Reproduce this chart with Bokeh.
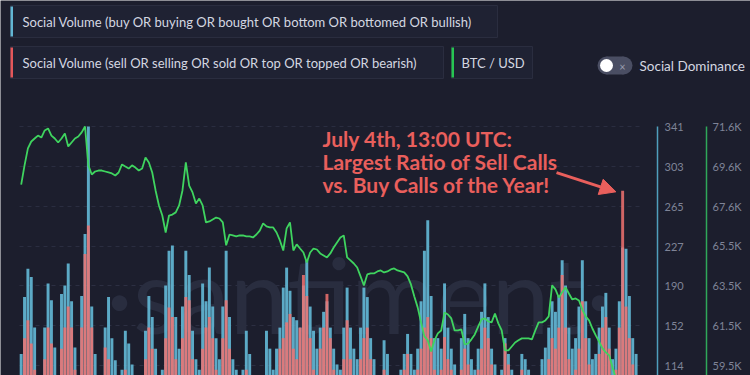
from bokeh.plotting import figure
from bokeh.models import Range1d, LinearAxis, FixedTicker, Label, Arrow, NormalHead
from bokeh.embed import file_html
from bokeh.resources import INLINE
from bokeh.core.properties import value

BG = "#1c1e2d"
TEAL = "#62b6d4"
RED = "#f07270"
GREEN = "#3fd45f"
ANN_RED = "#e95f5c"

# ---------------- data (4-hour bins, ~June 4 -> July 5) ----------------
bin_start_hour = [4 * i for i in range(186)]
bin_center_hour = [h + 2 for h in bin_start_hour]

buy_volume = [
    125, 179, 206, 198, 150, 100,
    95, 150, 192, 176, 131, 95,
    182, 190, 211, 175, 131, 100,
    180, 239, 341, 170, 125, 95,
    100, 150, 179, 140, 119, 95,
    110, 147, 135, 115, 95, 85,
    100, 147, 180, 160, 130, 100,
    110, 190, 223, 228, 160, 130,
    170, 223, 200, 147, 120, 110,
    192, 175, 207, 170, 140, 120,
    170, 223, 160, 120, 110, 100,
    110, 147, 125, 105, 95, 90,
    105, 147, 130, 110, 130, 150,
    188, 207, 185, 160, 157, 150,
    190, 214, 170, 147, 130, 150,
    165, 175, 150, 130, 115, 110,
    150, 188, 150, 130, 120, 150,
    188, 179, 140, 120, 105, 100,
    138, 125, 105, 95, 90, 110,
    125, 144, 125, 110, 130, 175,
    223, 252, 180, 140, 140, 130,
    192, 150, 130, 115, 105, 140,
    163, 140, 120, 110, 130, 165,
    192, 160, 130, 115, 105, 110,
    140, 125, 110, 100, 105, 125,
    120, 110, 100, 95, 105, 120,
    131, 150, 175, 165, 180, 214,
    190, 150, 130, 140, 170, 214,
    175, 140, 120, 125, 150, 170,
    183, 150, 120, 130, 175, 226,
    225, 180, 140, 125, 105, 90,
]

sell_volume = [
    100, 140, 157, 135, 110, 75,
    80, 120, 150, 135, 105, 70,
    130, 150, 170, 150, 110, 80,
    150, 220, 247, 150, 100, 80,
    80, 131, 120, 100, 85, 70,
    85, 110, 100, 90, 75, 70,
    85, 120, 150, 130, 105, 80,
    90, 140, 169, 160, 120, 100,
    140, 179, 176, 120, 100, 90,
    130, 150, 160, 140, 110, 100,
    140, 176, 130, 100, 90, 85,
    85, 110, 100, 85, 75, 70,
    80, 105, 95, 90, 100, 130,
    140, 155, 163, 130, 120, 150,
    200, 180, 140, 110, 100, 130,
    150, 182, 140, 110, 95, 90,
    120, 157, 120, 100, 95, 120,
    140, 150, 120, 100, 85, 80,
    110, 100, 90, 85, 80, 90,
    110, 125, 105, 95, 110, 130,
    150, 160, 140, 110, 100, 110,
    141, 120, 110, 95, 90, 110,
    130, 115, 100, 90, 110, 130,
    150, 140, 115, 100, 95, 100,
    135, 115, 100, 90, 95, 110,
    105, 95, 90, 85, 90, 100,
    105, 120, 140, 130, 150, 200,
    150, 120, 105, 110, 130, 175,
    140, 115, 100, 105, 125, 150,
    160, 130, 100, 110, 150, 280,
    170, 140, 115, 100, 85, 70,
]

btc_usd = [
    68660, 69630, 70490, 70840, 70990, 71140,
    71040, 71400, 71500, 71140, 70990, 70790,
    70990, 71250, 70590, 70790, 70990, 71090,
    71300, 71600, 69630, 69170, 69320, 69370,
    69370, 69320, 69270, 69220, 69120, 69270,
    69680, 69570, 69470, 69630, 69520, 69370,
    69470, 70030, 69780, 69270, 68360, 67600,
    67090, 66230, 67090, 67140, 67250, 67600,
    68360, 69780, 68610, 68260, 67700, 67950,
    67600, 66740, 66790, 66890, 66990, 66940,
    66740, 65580, 66130, 66080, 66030, 66080,
    66080, 66030, 66030, 65980, 66130, 66330,
    66690, 66540, 66490, 66490, 66230, 65830,
    65320, 66440, 66740, 65320, 65630, 65420,
    65220, 64710, 65220, 65420, 65370, 65170,
    65070, 64970, 65170, 65470, 65730, 65980,
    66080, 64970, 64820, 64660, 64460, 64010,
    63550, 64110, 64160, 64160, 64260, 64310,
    64210, 64260, 64360, 64410, 64310, 64260,
    64210, 64010, 63600, 62990, 62440, 61680,
    60970, 60770, 60210, 60770, 61120, 61270,
    62180, 62080, 61880, 61270, 61270, 61320,
    60560, 60610, 60820, 61070, 61470, 61830,
    61880, 61730, 61680, 62130, 61630, 61270,
    60260, 60260, 60460, 60660, 60770, 60870,
    60870, 60870, 60820, 61270, 61680, 61680,
    61780, 61980, 63550, 63350, 62940, 63200,
    63450, 63140, 62840, 62890, 62790, 62330,
    61980, 61780, 61370, 61020, 60710, 60360,
    60160, 60010, 59400, 58840, 58490, 58230,
    58130, 58230, 58330, 58130, 57980, 57930,
]

vol_ticks = [114, 152, 190, 227, 265, 303, 341]
btc_ticks = [59500, 61517, 63533, 65550, 67567, 69583, 71600]
btc_tick_labels = ["59.5K", "61.5K", "63.5K", "65.5K", "67.6K", "69.6K", "71.6K"]

legend_labels = [
    "Social Volume (buy OR buying OR bought OR bottom OR bottomed OR bullish)",
    "Social Volume (sell OR selling OR sold OR top OR topped OR bearish)",
    "BTC / USD",
]
annotation_lines = [
    "July 4th, 13:00 UTC:",
    "Largest Ratio of Sell Calls",
    "vs. Buy Calls of the Year!",
]

# ---------------- figure: frame spans the whole canvas; legend strip uses a pixel-like "ui" range
p = figure(width=750, height=375, x_range=Range1d(-22.62, 870.2), y_range=Range1d(104.5, 460.75),
           output_backend="svg", toolbar_location=None,
           x_axis_location=None, y_axis_location=None,
           min_border_left=0, min_border_right=0, min_border_top=0, min_border_bottom=0,
           background_fill_color=BG, border_fill_color=BG, outline_line_color=None)
p.extra_y_ranges = {"btc": Range1d(58990, 77979), "ui": Range1d(375, 0)}
p.extra_x_ranges = {"ui": Range1d(0, 750)}
p.grid.visible = False

# dashed horizontal guide lines at the volume ticks, spanning the time extent of the data
p.segment(x0=[bin_start_hour[0]] * len(vol_ticks), x1=[bin_start_hour[-1] + 2] * len(vol_ticks),
          y0=vol_ticks, y1=vol_ticks, line_color="#2c2f42", line_width=1, line_dash="4 4")

# legend strip
ui = dict(x_range_name="ui", y_range_name="ui")
p.quad(left=[10, 10, 451], right=[497, 443, 532], top=[5, 46, 46], bottom=[37, 78, 78],
       fill_color="#1f2233", line_color="#2a2d3f", line_width=1, **ui)
p.quad(left=[10, 10, 451], right=[12.5, 12.5, 453.5], top=[6, 47, 47], bottom=[36, 77, 77],
       fill_color=[TEAL, "#e4575a", "#27c552"], line_color=None, **ui)
p.text(x=[22, 22, 461], y=[21.5, 62.5, 62.5], text=legend_labels,
       text_font=value("Lato"), text_font_size="13px", text_color="#d4d7e1",
       text_baseline="middle", text_align="left", **ui)
p.quad(left=[606], right=[623], top=[56], bottom=[74], fill_color="#4a4e63", line_color=None, **ui)
p.circle(x=[606, 623], y=[65, 65], radius=9, fill_color="#4a4e63", line_color=None, **ui)
p.circle(x=[606], y=[65], radius=6.5, fill_color="#ffffff", line_color=None, **ui)
p.text(x=[622], y=[65.5], text=["×"], text_font=value("Lato"), text_font_size="11px",
       text_color="#9a9eb0", text_baseline="middle", text_align="center", **ui)
p.text(x=[639], y=[65.5], text=["Social Dominance"], text_font=value("Lato"),
       text_font_size="13.5px", text_color="#d4d7e1", text_baseline="middle",
       text_align="left", **ui)

# watermark
p.text(x=[404.8], y=[182.4], text=["·santiment·"], text_font=value("Lato"),
       text_font_size="104px", text_color="#292d3f", text_align="center",
       text_baseline="alphabetic")

p.vbar(x=bin_center_hour, width=3.5, top=buy_volume, bottom=0,
       fill_color=TEAL, line_color=None, fill_alpha=0.92)
p.vbar(x=bin_center_hour, width=3.5, top=sell_volume, bottom=0,
       fill_color=RED, line_color=None, fill_alpha=0.85)
p.line(x=bin_center_hour, y=btc_usd, y_range_name="btc", line_color=GREEN, line_width=1.8)

# right-hand axes, pinned at fixed x positions just past the bars
vax = LinearAxis(ticker=FixedTicker(ticks=vol_ticks), fixed_location=759.5, bounds=(104.5, 341))
bax = LinearAxis(y_range_name="btc", ticker=FixedTicker(ticks=btc_ticks), fixed_location=817.9,
                 bounds=(58990, 71600),
                 major_label_overrides=dict(zip(btc_ticks, btc_tick_labels)))
for a, col, so in [(vax, "#4f9fbd", 7), (bax, "#2fa85a", 6)]:
    a.axis_line_color = col
    a.axis_line_width = 1.5
    a.major_tick_line_color = None
    a.minor_tick_line_color = None
    a.major_tick_out = 0
    a.major_tick_in = 0
    a.major_label_standoff = so
    a.major_label_text_color = "#7f8497"
    a.major_label_text_font = "Lato"
    a.major_label_text_font_size = "11px"
    p.add_layout(a, "right")

# annotation
for txt, yv in zip(annotation_lines, [329.6, 307.8, 286.0]):
    p.add_layout(Label(x=360.7, y=yv, text=txt, text_color=ANN_RED, text_font="Lato",
                       text_font_style="bold", text_font_size="21px",
                       text_baseline="alphabetic"))
p.add_layout(Arrow(end=NormalHead(size=16, fill_color=ANN_RED, line_color=ANN_RED),
                   x_start=639.3, y_start=297.3, x_end=710.0, y_end=279.0,
                   line_color=ANN_RED, line_width=3))

open("out.html", "w").write(file_html(p, INLINE))
